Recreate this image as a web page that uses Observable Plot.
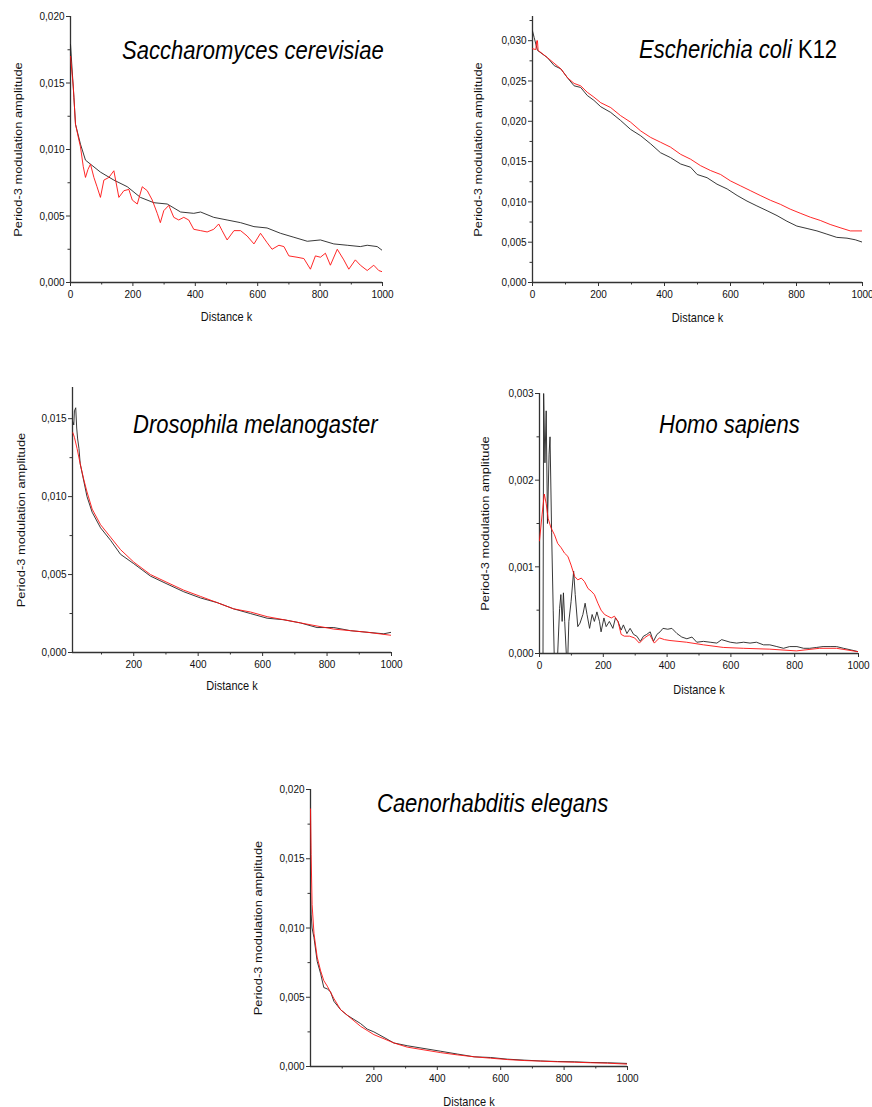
<!DOCTYPE html>
<html><head><meta charset="utf-8">
<script src="https://cdn.jsdelivr.net/npm/d3@7"></script>
<script src="https://cdn.jsdelivr.net/npm/@observablehq/plot@0.6"></script>
<style>
body{margin:0;background:#fff;width:872px;height:1107px;position:relative;overflow:hidden;font-family:"Liberation Sans",Arial,sans-serif}
.panel{position:absolute}
.title{position:absolute;font-size:22px;white-space:nowrap;line-height:1;transform:scaleY(1.17);transform-origin:0 100%;color:#000}
.title i{font-style:italic}
</style></head><body>
<script>
// ---------- data: [distance k, amplitude] ----------
const scerBlack = [[0,.0179],[11,.0139],[16,.0119],[32,.0104],[48,.0092],[64,.0089],[96,.0083],[139,.0077],[182,.0072],[224,.0064],[267,.0060],[310,.0059],[353,.0053],[395,.0052],[417,.0053],[459,.0049],[502,.0047],[545,.0045],[588,.0042],[630,.0041],[673,.0037],[716,.0034],[759,.0031],[801,.0032],[844,.0029],[887,.0028],[929,.0027],[951,.0028],[983,.0027],[1000,.0024]];
const scerRed = [[0,.0170],[9,.0147],[16,.0119],[27,.0107],[32,.0102],[41,.0087],[48,.0079],[56,.0085],[64,.0089],[75,.0079],[85,.0072],[96,.0064],[107,.0077],[123,.0079],[139,.0084],[155,.0064],[171,.0069],[187,.0070],[198,.0062],[214,.0059],[230,.0072],[246,.0069],[262,.0062],[278,.0052],[288,.0045],[299,.0054],[315,.0058],[331,.0049],[347,.0047],[363,.0049],[379,.0047],[395,.0040],[417,.0039],[438,.0038],[459,.0040],[475,.0044],[486,.0039],[502,.0032],[524,.0039],[545,.0039],[566,.0035],[588,.0029],[609,.0037],[630,.0030],[646,.0025],[668,.0028],[684,.0027],[700,.0020],[726,.0019],[748,.0018],[769,.0010],[785,.0020],[801,.0019],[817,.0022],[833,.0013],[855,.0025],[876,.0017],[892,.0010],[913,.0017],[929,.0013],[951,.0009],[972,.0013],[988,.0009],[1000,.0008]];

const ecoliBlack = [[0,.0312],[5,.0304],[15,.0288],[45,.0279],[66,.0269],[86,.0265],[106,.0254],[126,.0244],[146,.0242],[166,.0232],[186,.0226],[207,.0218],[237,.0211],[267,.0201],[297,.0190],[328,.0182],[358,.0172],[388,.0161],[418,.0155],[449,.0147],[479,.0143],[499,.0134],[529,.0130],[559,.0122],[590,.0116],[620,.0108],[650,.0101],[680,.0095],[711,.0089],[741,.0083],[771,.0076],[801,.0070],[832,.0067],[862,.0064],[892,.0060],[922,.0056],[953,.0055],[978,.0053],[1000,.0050]];
const ecoliRed = [[0,.0290],[10,.0289],[13,.0300],[15,.0300],[17,.0288],[45,.0279],[86,.0265],[106,.0254],[126,.0247],[146,.0244],[166,.0236],[186,.0230],[207,.0223],[237,.0217],[267,.0207],[297,.0199],[328,.0188],[358,.0180],[388,.0174],[418,.0168],[449,.0159],[479,.0153],[509,.0145],[539,.0139],[570,.0134],[600,.0126],[630,.0120],[660,.0114],[690,.0108],[721,.0102],[751,.0097],[781,.0091],[811,.0086],[842,.0081],[872,.0077],[902,.0072],[932,.0068],[963,.0064],[1000,.0064]];

const drosBlack = [[11,.0148],[14,.0146],[16,.0155],[20,.0157],[23,.0144],[26,.0137],[30,.0131],[34,.0121],[45,.0110],[55,.0100],[71,.0090],[97,.0080],[128,.0072],[159,.0063],[200,.0057],[252,.0049],[303,.0044],[355,.0039],[407,.0035],[459,.0032],[510,.0028],[562,.0025],[614,.0022],[666,.0021],[717,.0019],[769,.0016],[821,.0016],[873,.0014],[924,.0013],[976,.0012],[1000,.0013]];
const drosRed = [[11,.0141],[16,.0138],[24,.0131],[34,.0121],[45,.0111],[55,.0103],[71,.0092],[97,.0082],[128,.0074],[159,.0066],[200,.0058],[252,.0050],[303,.0045],[355,.0040],[407,.0036],[459,.0032],[510,.0028],[562,.0026],[614,.0023],[666,.0021],[717,.0019],[769,.0017],[821,.0015],[873,.0014],[924,.0013],[1000,.0011]];

const homoBlack = [[11,0],[13,.0030],[17,.0022],[21,.0028],[25,.0015],[30,.0023],[33,.0025],[38,.0014],[43,.0005],[46,0],[57,0],[63,.00052],[67,.00068],[71,.00037],[75,.0007],[79,.00037],[84,0],[89,0],[92,.00037],[99,.0006],[107,.00095],[112,.00068],[120,.00031],[127,.00035],[136,.00045],[143,.00058],[149,.00045],[157,.00029],[165,.00045],[172,.00037],[180,.00048],[188,.00037],[193,.00025],[202,.00041],[209,.00031],[219,.00037],[230,.00029],[238,.00041],[246,.00037],[256,.00027],[263,.00033],[274,.00023],[284,.00029],[295,.00022],[305,.0002],[316,.00014],[326,.0002],[336,.00022],[347,.00025],[357,.00014],[368,.00022],[378,.00025],[387,.00029],[402,.00028],[415,.00029],[431,.00023],[446,.00019],[462,.00017],[478,.00019],[493,.00013],[514,.00014],[535,.00013],[556,.00012],[571,.00016],[598,.00013],[618,.00012],[640,.00013],[660,.00012],[680,.00013],[702,.0001],[722,.0001],[744,.00008],[765,.00006],[784,.00008],[807,.00008],[828,.00006],[847,.00006],[869,.00007],[889,.00008],[911,.00008],[931,.00008],[953,.00006],[978,.00004],[1000,.00002]];
const homoRed = [[0,.0013],[8,.0016],[15,.00184],[21,.00173],[27,.00156],[36,.00145],[47,.00137],[57,.00127],[68,.00122],[78,.00116],[89,.00112],[99,.00102],[110,.00089],[120,.00085],[131,.00087],[141,.00083],[152,.00075],[162,.00072],[172,.00068],[183,.00058],[193,.0005],[204,.00045],[214,.00043],[225,.00041],[235,.00043],[246,.00037],[256,.00022],[266,.0002],[282,.0002],[298,.00018],[313,.00012],[329,.00018],[345,.00022],[360,.00012],[376,.00018],[392,.00016],[409,.00015],[461,.00013],[514,.0001],[576,.00007],[639,.00006],[722,.00005],[805,.00003],[878,.00006],[931,.00006],[1000,.00002]];

const celBlack = [[0,.0125],[2,.0110],[5,.0100],[11,.0093],[21,.0076],[32,.0067],[42,.0057],[53,.0056],[63,.0054],[74,.0047],[95,.0041],[116,.0037],[137,.0034],[158,.0031],[179,.0027],[200,.0025],[232,.0021],[263,.0017],[305,.0015],[358,.0013],[411,.0011],[463,.0009],[516,.0007],[568,.00065],[621,.00053],[674,.00046],[726,.0004],[779,.00036],[832,.00034],[884,.00029],[937,.00027],[1000,.00022]];
const celRed = [[0,.0186],[2,.0153],[5,.0117],[11,.0096],[21,.0079],[32,.0069],[42,.0062],[53,.0058],[74,.0049],[95,.0041],[116,.0037],[137,.0033],[158,.0029],[179,.0026],[200,.0023],[232,.0020],[263,.0017],[305,.0014],[358,.0012],[411,.0010],[463,.00084],[516,.0007],[568,.0006],[621,.0005],[674,.00043],[726,.00039],[779,.00034],[832,.00031],[884,.00027],[937,.00024],[1000,.00017]];

const xTicksFrom0 = [0,200,400,600,800,1000];
const xTicksFrom200 = [200,400,600,800,1000];
const xMinorTicks = [100,300,500,700,900];
const yLabel = "Period-3 modulation amplitude";
const xLabel = "Distance k";

// ---------- drawing ----------
const fmtY = d => d.toFixed(3).replace(".", ",");
const step = (a, b, s) => d3.range(a, b + s / 2, s);

function panel(o) {
  const svg = Plot.plot({
    width: o.width, height: o.height,
    marginTop: o.m[0], marginRight: o.m[1], marginBottom: o.m[2], marginLeft: o.m[3],
    style: {fontFamily: "'Liberation Sans', Arial, sans-serif", fontSize: "10px", color: "#111", background: "transparent", overflow: "visible"},
    x: {domain: o.xDomain},
    y: {domain: o.yDomain},
    marks: [
      Plot.axisY({ticks: o.yMinor, tickSize: 2.5, tickFormat: () => "", label: null, stroke: "#333"}),
      Plot.axisY({ticks: o.yMajor, tickSize: 4, tickPadding: 2, tickFormat: fmtY, label: null, stroke: "#333"}),
      Plot.axisX({ticks: xMinorTicks, tickSize: 2.5, tickFormat: () => "", label: null, stroke: "#333"}),
      Plot.axisX({ticks: o.xMajor, tickSize: 4, tickPadding: 3, tickFormat: d => String(d), label: null, stroke: "#333"}),
      Plot.ruleX([o.xDomain[0]], {stroke: "#333", strokeWidth: 1.3}),
      Plot.ruleY([o.yDomain[0]], {stroke: "#333", strokeWidth: 1.3}),
      Plot.line(o.black, {x: d => d[0], y: d => d[1], stroke: "#222", strokeWidth: 0.9, clip: true}),
      Plot.line(o.red, {x: d => d[0], y: d => d[1], stroke: "#ff1010", strokeWidth: 0.9, clip: true}),
      Plot.text([yLabel], {text: d => d, frameAnchor: "left", textAnchor: "middle", lineAnchor: "middle", rotate: -90, dx: o.ylx, fontSize: 11, fill: "#111"}),
      Plot.text([xLabel], {text: d => d, frameAnchor: "bottom", textAnchor: "middle", lineAnchor: "middle", dy: o.xly, fontSize: 11, fill: "#111"})
    ]
  });
  // the original figure is vertically stretched: stretch glyphs the same way
  d3.select(svg).selectAll("text").each(function() {
    let t = this.getAttribute("transform");
    if (!t) {
      const x = this.getAttribute("x") || 0, y = this.getAttribute("y") || 0;
      t = `translate(${x},${y})`;
      this.removeAttribute("x"); this.removeAttribute("y");
    }
    this.setAttribute("transform", t + (t.includes("rotate") ? " scale(1.17,1)" : " scale(1,1.17)"));
  });
  const wrap = document.createElement("div");
  wrap.className = "panel";
  wrap.style.left = o.left + "px";
  wrap.style.top = o.top + "px";
  wrap.appendChild(svg);
  document.body.appendChild(wrap);
  const t = document.createElement("div");
  t.className = "title";
  t.style.left = o.tx + "px";
  t.style.top = o.ty + "px";
  t.innerHTML = o.title;
  document.body.appendChild(t);
}

panel({left: 0, top: 0, width: 400, height: 330, m: [16, 18, 48, 70],
  xDomain: [0, 1000], yDomain: [0, 0.020], xMajor: xTicksFrom0,
  yMajor: step(0, 0.020, 0.005), yMinor: step(0.0025, 0.0175, 0.005),
  black: scerBlack, red: scerRed, ylx: -52, xly: 34,
  title: "<i>Saccharomyces cerevisiae</i>", tx: 122, ty: 42});

panel({left: 460, top: 0, width: 412, height: 330, m: [16, 10, 48, 72],
  xDomain: [0, 1000], yDomain: [0, 0.033], xMajor: xTicksFrom0,
  yMajor: step(0, 0.030, 0.005), yMinor: step(0.0025, 0.0325, 0.005),
  black: ecoliBlack, red: ecoliRed, ylx: -54, xly: 35,
  title: "<i>Escherichia coli</i> K12", tx: 639, ty: 41});

panel({left: 0, top: 380, width: 400, height: 320, m: [7, 9, 48, 72],
  xDomain: [10, 1000], yDomain: [0, 0.017], xMajor: xTicksFrom200,
  yMajor: step(0, 0.015, 0.005), yMinor: step(0.0025, 0.0125, 0.005),
  black: drosBlack, red: drosRed, ylx: -51, xly: 33,
  title: "<i>Drosophila melanogaster</i>", tx: 133, ty: 416});

panel({left: 460, top: 380, width: 412, height: 320, m: [13, 14, 47, 79],
  xDomain: [0, 1000], yDomain: [0, 0.003], xMajor: xTicksFrom0,
  yMajor: step(0, 0.003, 0.001), yMinor: step(0.0005, 0.0025, 0.001),
  black: homoBlack, red: homoRed, ylx: -54, xly: 36,
  title: "<i>Homo sapiens</i>", tx: 659, ty: 416});

panel({left: 240, top: 770, width: 400, height: 337, m: [19, 13, 41, 70],
  xDomain: [0, 1000], yDomain: [0, 0.020], xMajor: xTicksFrom200,
  yMajor: step(0, 0.020, 0.005), yMinor: step(0.0025, 0.0175, 0.005),
  black: celBlack, red: celRed, ylx: -52, xly: 35,
  title: "<i>Caenorhabditis elegans</i>", tx: 377, ty: 795});
</script>
</body></html>
